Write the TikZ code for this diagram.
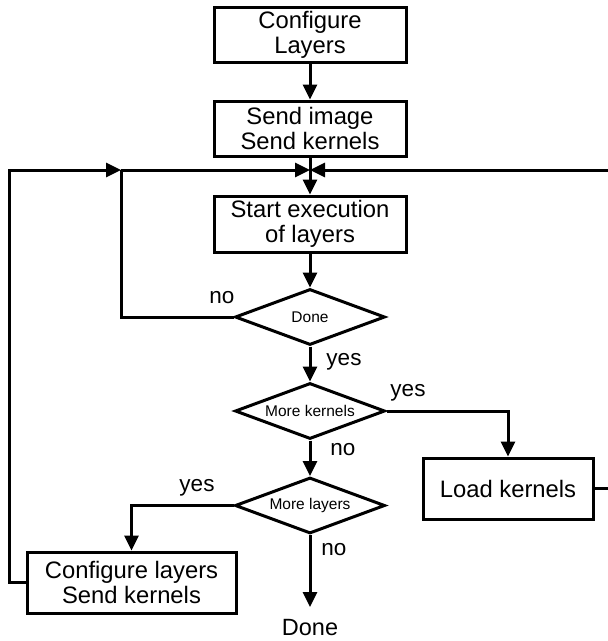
\documentclass[tikz,border=0pt]{standalone}
\usepackage{fontspec}
\setmainfont{Liberation Sans}
\usetikzlibrary{shapes.geometric,arrows.meta}
\begin{document}
\begin{tikzpicture}[x=1pt,y=-1pt,
  line width=3pt, line join=miter,
  arr/.style={-{Triangle[length=15pt,width=14pt]}},
  box/.style={draw, rectangle, inner sep=0pt, align=center,
    font=\fontsize{23.8}{25}\selectfont},
  dia/.style={draw, diamond, aspect=2.68, inner sep=0pt,
    minimum width=150pt, minimum height=56pt,
    font=\fontsize{15.5}{17}\selectfont},
  lbl/.style={font=\fontsize{22.5}{24}\selectfont, inner sep=0pt}]
\useasboundingbox (0,0) rectangle (608,641);
% boxes
\node[box, minimum width=192pt, minimum height=55pt] (cfg) at (310,34.5) {Configure\\Layers};
\node[box, minimum width=192pt, minimum height=55pt] (send) at (310,128.5) {Send image\\Send kernels};
\node[box, minimum width=192pt, minimum height=56pt] (start) at (310,224) {Start execution\\of layers};
\node[dia] (done) at (310,317) {Done};
\node[dia] (mk) at (310,411) {More kernels};
\node[dia] (ml) at (310,505.5) {More layers};
\node[box, minimum width=170pt, minimum height=61pt] (load) at (508,488.5) {Load kernels};
\node[box, minimum width=209pt, minimum height=61pt] (cl) at (131.5,582.5) {Configure layers\\Send kernels};
\node[lbl, font=\fontsize{23.5}{25}\selectfont] (fin) at (310,628) {Done};
% junction coordinates
\coordinate (j) at (310,170);
\coordinate (jl) at (121,170);
\coordinate (jr) at (611,170);
\coordinate (lft) at (9,582.5);
\coordinate (endd) at (310,607);
% connectors
\draw[arr] (cfg) -- (send);
\draw[arr] (send) -- (start);
\draw[arr] (jl) -- (j);
\draw[arr] (jr) -- (j);
\draw[arr] (cl.west) -- (lft) |- (jl);
\draw (done.west) -| (jl);
\draw (load.east) -| (jr);
\draw[arr] (start) -- (done);
\draw[arr] (done) -- (mk);
\draw[arr] (mk.east) -| (load.north);
\draw[arr] (mk) -- (ml);
\draw[arr] (ml.west) -| (cl.north);
\draw[arr] (ml) -- (endd);
% labels
\node[lbl] (l1) at (222,298) {no};
\node[lbl] (l2) at (344,362) {yes};
\node[lbl] (l3) at (408,393) {yes};
\node[lbl] (l4) at (343,450) {no};
\node[lbl] (l5) at (197,488) {yes};
\node[lbl] (l6) at (334,550) {no};
\end{tikzpicture}
\end{document}
